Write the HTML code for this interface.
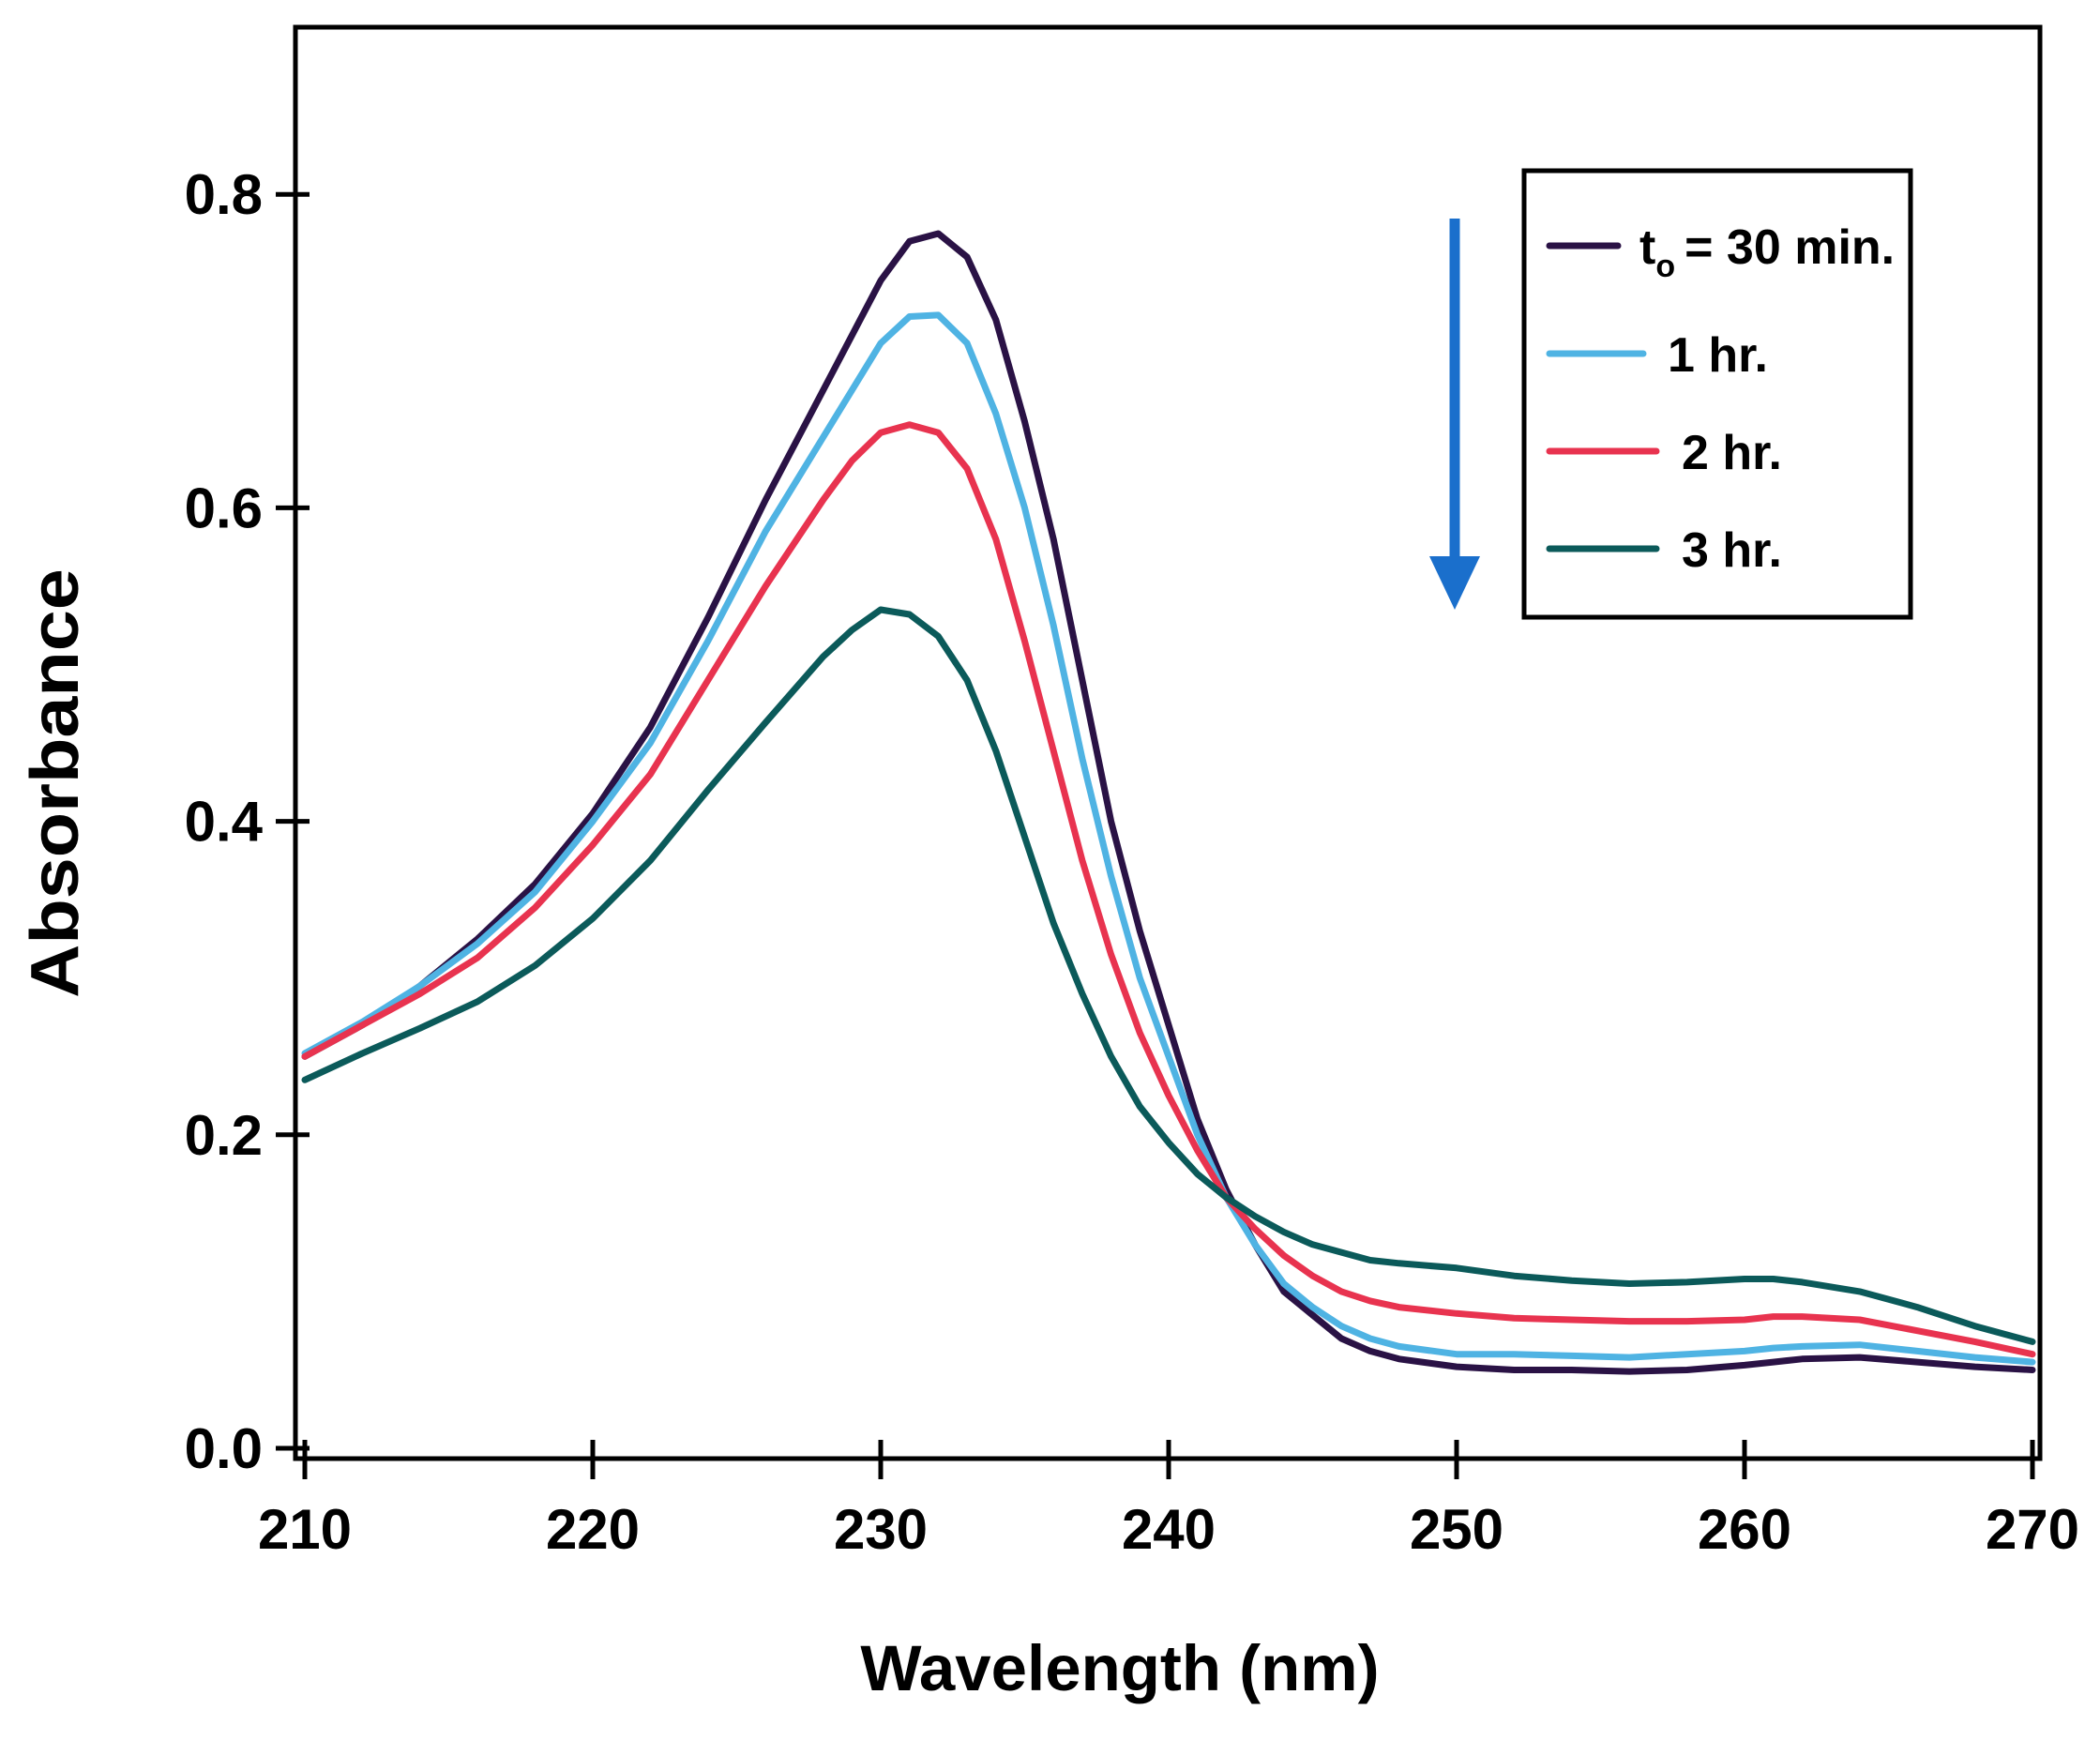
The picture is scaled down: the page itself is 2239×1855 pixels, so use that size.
<!DOCTYPE html>
<html><head><meta charset="utf-8"><style>
html,body{margin:0;padding:0;background:#fff;}
svg{display:block;font-family:"Liberation Sans",Arial,sans-serif;font-weight:bold;}
</style></head><body>
<svg id="chart" width="2239" height="1855" viewBox="0 0 2239 1855">
<g id="frame"></g>
<g id="series"></g>
<g id="axes"></g>
<g id="legend"></g>
</svg>
<script>
const wavelengths=[210,212,214,216,218,220,222,224,226,228,229,230,231,232,233,234,235,236,237,238,239,240,241,242,243,244,245,246,247,248,250,252,254,256,258,260,261,262,264,266,268,270];
const s30min=[0.25,0.27,0.295,0.325,0.36,0.405,0.46,0.53,0.605,0.675,0.71,0.745,0.77,0.775,0.76,0.72,0.655,0.58,0.49,0.4,0.33,0.27,0.21,0.165,0.13,0.1,0.085,0.07,0.062,0.057,0.052,0.05,0.05,0.049,0.05,0.053,0.055,0.057,0.058,0.055,0.052,0.05];
const s1hr=[0.252,0.272,0.295,0.322,0.355,0.4,0.45,0.515,0.585,0.645,0.675,0.705,0.722,0.723,0.705,0.66,0.6,0.525,0.44,0.365,0.3,0.25,0.2,0.16,0.13,0.105,0.09,0.078,0.07,0.065,0.06,0.06,0.059,0.058,0.06,0.062,0.064,0.065,0.066,0.062,0.058,0.055];
const s2hr=[0.25,0.27,0.29,0.313,0.345,0.385,0.43,0.49,0.55,0.605,0.63,0.648,0.653,0.648,0.625,0.58,0.515,0.445,0.375,0.315,0.265,0.225,0.19,0.16,0.14,0.123,0.11,0.1,0.094,0.09,0.086,0.083,0.082,0.081,0.081,0.082,0.084,0.084,0.082,0.075,0.068,0.06];
const s3hr=[0.235,0.252,0.268,0.285,0.308,0.338,0.375,0.42,0.463,0.505,0.522,0.535,0.532,0.518,0.49,0.445,0.39,0.335,0.29,0.25,0.218,0.195,0.175,0.16,0.148,0.138,0.13,0.125,0.12,0.118,0.115,0.11,0.107,0.105,0.106,0.108,0.108,0.106,0.1,0.09,0.078,0.068];
const xTicks=[210,220,230,240,250,260,270];
const yTicks=[0.0,0.2,0.4,0.6,0.8];
const seriesNames=["t-30-min","1-hr","2-hr","3-hr"];
const legendLabels=["= 30 min.","1 hr.","2 hr.","3 hr."];

const NS="http://www.w3.org/2000/svg";
const colors=["#2a1245","#4fb3e3","#e8334f","#0b5a5a"];
function X(v){return 325+(v-210)*30.7;}
function Y(v){return 1544-v*1671;}
function mk(tag,attrs,parent,txt){const e=document.createElementNS(NS,tag);for(const k in attrs)e.setAttribute(k,attrs[k]);if(txt!==undefined)e.textContent=txt;parent.appendChild(e);return e;}
const frame=document.getElementById('frame'),axes=document.getElementById('axes'),ser=document.getElementById('series'),leg=document.getElementById('legend');

const box=mk('rect',{x:315,y:29,width:1860,height:1526,fill:'none',stroke:'#000','stroke-width':5},frame);



xTicks.forEach(t=>{
  const l=mk('line',{x1:X(t),x2:X(t),y1:1535,y2:1577,stroke:'#000','stroke-width':5},axes);
  
  
  const tx=mk('text',{x:X(t),y:1651,'text-anchor':'middle','font-size':60},axes,String(t));
  
  
});
yTicks.forEach(t=>{
  const l=mk('line',{x1:294,x2:330,y1:Y(t),y2:Y(t),stroke:'#000','stroke-width':5},axes);
  
  
  const tx=mk('text',{x:280,y:Y(t)+21,'text-anchor':'end','font-size':60},axes,t.toFixed(1));
  
  
});
const xt=mk('text',{x:1194,y:1802,'text-anchor':'middle','font-size':69},axes,'Wavelength (nm)');


const yt=mk('text',{x:0,y:0,'text-anchor':'middle','font-size':72,transform:'translate(83,835) rotate(-90) scale(1.1,1)'},axes,'Absorbance');



[s30min,s1hr,s2hr,s3hr].forEach((s,i)=>{
  const d=s.map((v,j)=>(j?'L':'M')+X(wavelengths[j]).toFixed(1)+','+Y(v).toFixed(1)).join(' ');
  const p=mk('path',{d:d,fill:'none',stroke:colors[i],'stroke-width':7,'stroke-linejoin':'round','stroke-linecap':'round'},ser);
  
  
});

const lb=mk('rect',{x:1625,y:182,width:412,height:476,fill:'#fff',stroke:'#000','stroke-width':5},leg);


const ly=[262,377,481,585],lx2=[1725,1752,1766,1766],tx0=[1748,1778,1793,1793];
legendLabels.forEach((lab,i)=>{
  const l=mk('line',{x1:1652,x2:lx2[i],y1:ly[i],y2:ly[i],stroke:colors[i],'stroke-width':7,'stroke-linecap':'round'},leg);
  
  
  const t=mk('text',{x:tx0[i],y:ly[i]+19,'font-size':52},leg);
  
  
  if(i===0){
    mk('tspan',{},t,'t');
    mk('tspan',{dy:14,'font-size':34},t,'o');
    mk('tspan',{dy:-14,dx:10},t,lab);
  } else t.textContent=lab;
});
const ar=mk('line',{x1:1551,x2:1551,y1:233,y2:600,stroke:'#1a6fcc','stroke-width':11},leg);


const ah=mk('polygon',{points:'1524,593 1578,593 1551,650',fill:'#1a6fcc'},leg);


</script>
</body></html>
